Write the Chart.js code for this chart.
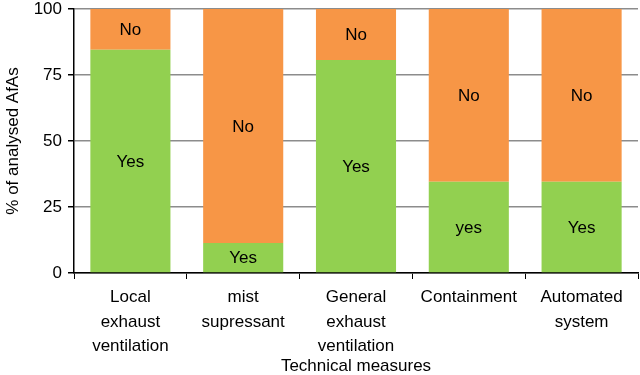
<!DOCTYPE html>
<html>
<head>
<meta charset="utf-8">
<script src="https://cdn.jsdelivr.net/npm/chart.js@4"></script>
<style>
  html, body { margin: 0; padding: 0; background: #fff; }
  #wrap { width: 640px; height: 375px; }
</style>
</head>
<body>
<div id="wrap"><canvas id="chart" width="640" height="375"></canvas></div>
<script>
// Datos
const categorias = [
  ['Local', 'exhaust', 'ventilation'],
  ['mist', 'supressant'],
  ['General', 'exhaust', 'ventilation'],
  'Containment',
  ['Automated', 'system']
];
const valoresSi = [84.6, 11.4, 80.7, 34.6, 34.6];
const valoresNo = [15.4, 88.6, 19.3, 65.4, 65.4];
const etiquetasSi = ['Yes', 'Yes', 'Yes', 'yes', 'Yes'];
const etiquetasNo = ['No', 'No', 'No', 'No', 'No'];
const ticksY = [0, 25, 50, 75, 100];

const FUENTE = '"Liberation Sans", Arial, sans-serif';

// Etiquetas dentro de cada segmento
const etiquetasPlugin = {
  id: 'etiquetas',
  afterDatasetsDraw(chart) {
    const ctx = chart.ctx;
    ctx.save();
    ctx.font = '17px ' + FUENTE;
    ctx.fillStyle = '#000';
    ctx.textAlign = 'center';
    ctx.textBaseline = 'middle';
    chart.data.datasets.forEach((ds, i) => {
      const meta = chart.getDatasetMeta(i);
      meta.data.forEach((bar, j) => {
        const { x, y, base } = bar.getProps(['x', 'y', 'base'], true);
        ctx.fillText(ds.etiquetas[j], x, (y + base) / 2 + 1);
      });
    });
    ctx.restore();
  }
};

new Chart(document.getElementById('chart'), {
  type: 'bar',
  data: {
    labels: categorias,
    datasets: [
      { label: 'Yes', data: valoresSi, etiquetas: etiquetasSi, backgroundColor: '#92D050', categoryPercentage: 1, barPercentage: 0.71 },
      { label: 'No', data: valoresNo, etiquetas: etiquetasNo, backgroundColor: '#F79646', categoryPercentage: 1, barPercentage: 0.71 }
    ]
  },
  options: {
    responsive: false,
    animation: false,
    layout: { padding: { top: 9, right: 2, left: 0, bottom: 0 } },
    plugins: { legend: { display: false }, tooltip: { enabled: false } },
    scales: {
      x: {
        stacked: true,
        grid: { drawOnChartArea: false, tickLength: 6, tickColor: '#000', offset: true },
        border: { color: '#000', width: 1.5 },
        ticks: { color: '#000', font: { family: FUENTE, size: 17, lineHeight: 1.45 }, padding: 6, maxRotation: 0, autoSkip: false },
        title: { display: true, text: 'Technical measures', color: '#000', font: { family: FUENTE, size: 17, lineHeight: 1 }, padding: { top: 0, bottom: 0 } },
        afterFit(scale) { scale.height = 102; }
      },
      y: {
        stacked: true,
        min: 0,
        max: 100,
        afterBuildTicks(scale) { scale.ticks = ticksY.map(v => ({ value: v })); },
        grid: { color: '#8c8c8c', lineWidth: 1.5, tickLength: 6, tickColor: '#000' },
        border: { color: '#000', width: 1.5 },
        ticks: { color: '#000', font: { family: FUENTE, size: 17 }, padding: 6 },
        title: { display: true, text: '% of analysed AfAs', color: '#000', font: { family: FUENTE, size: 17 }, padding: { top: 3, bottom: 0 } },
        afterFit(scale) {
          scale.width = 74;
          scale.paddingTop = 0;
          scale.paddingBottom = 0;
        }
      }
    }
  },
  plugins: [etiquetasPlugin]
});
</script>
</body>
</html>
